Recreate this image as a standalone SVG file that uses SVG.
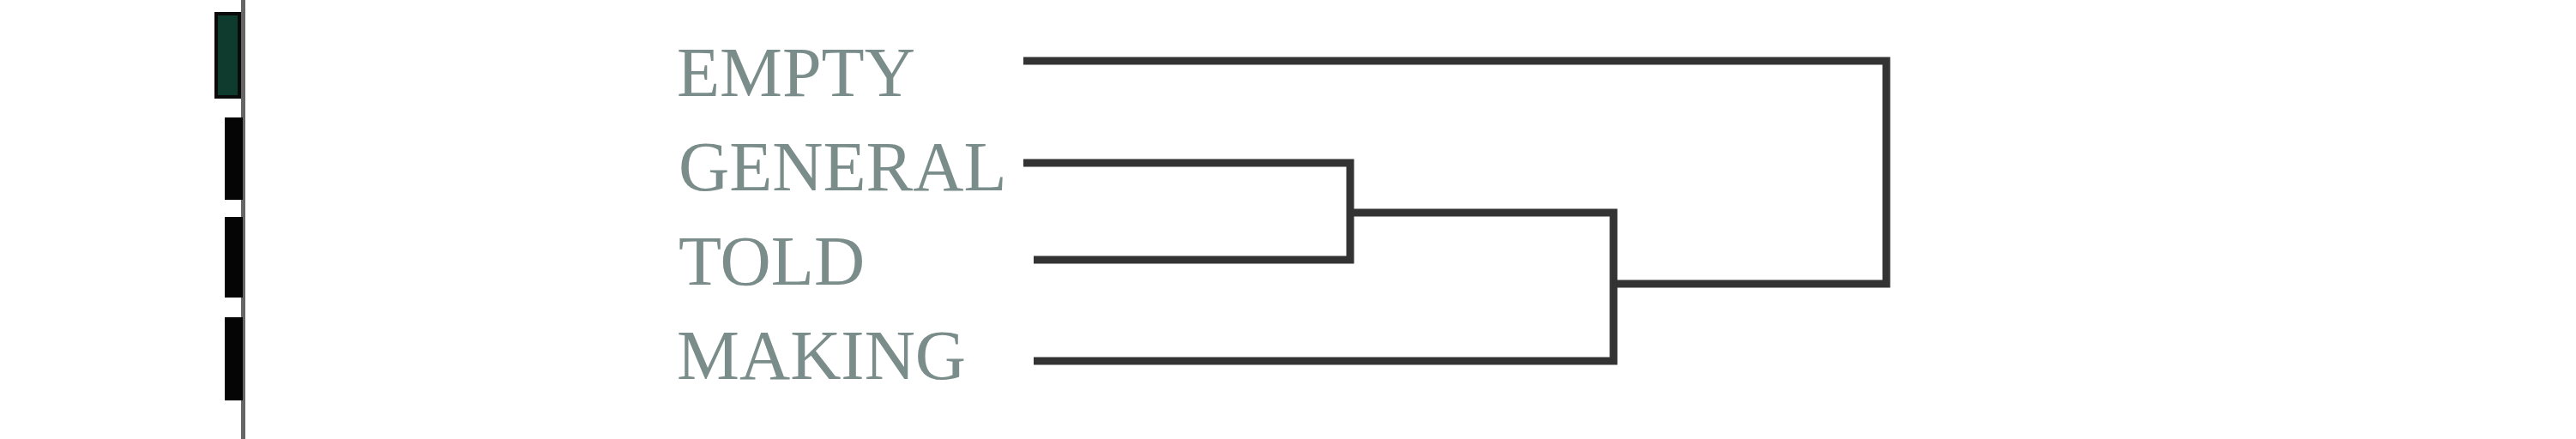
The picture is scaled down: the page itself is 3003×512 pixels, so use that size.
<svg xmlns="http://www.w3.org/2000/svg" width="3003" height="512" viewBox="0 0 3003 512">
<style>
.lbl{font-family:"Liberation Serif","Times New Roman",serif;font-size:82px;fill:#7b8d8a}
.edge{fill:none;stroke:#333;stroke-width:9;stroke-linecap:butt;stroke-linejoin:miter}
.seg{fill:#050505}
</style>
<rect width="3003" height="512" fill="#fff"/>
<g id="sidebar">
<rect x="281" y="0" width="5" height="512" fill="#666"/>
<rect x="252" y="16" width="27" height="97" fill="#0e3b2d" stroke="#0a0a0a" stroke-width="4"/>
<rect class="seg" x="262" y="137" width="21" height="96"/>
<rect class="seg" x="262" y="253" width="21" height="94"/>
<rect class="seg" x="262" y="370" width="21" height="97"/>
</g>
<g id="node-empty"><text class="lbl" x="789" y="112">EMPTY</text></g>
<g id="node-general"><text class="lbl" x="791" y="222">GENERAL</text></g>
<g id="node-told"><text class="lbl" x="791" y="332">TOLD</text></g>
<g id="node-making"><text class="lbl" x="789" y="442">MAKING</text></g>
<g id="connectors">
<path class="edge" d="M1193 190 H1574 V303 H1205"/>
<path class="edge" d="M1574 248 H1881 V421 H1205"/>
<path class="edge" d="M1193 71 H2199 V331 H1881"/>
</g>
</svg>
